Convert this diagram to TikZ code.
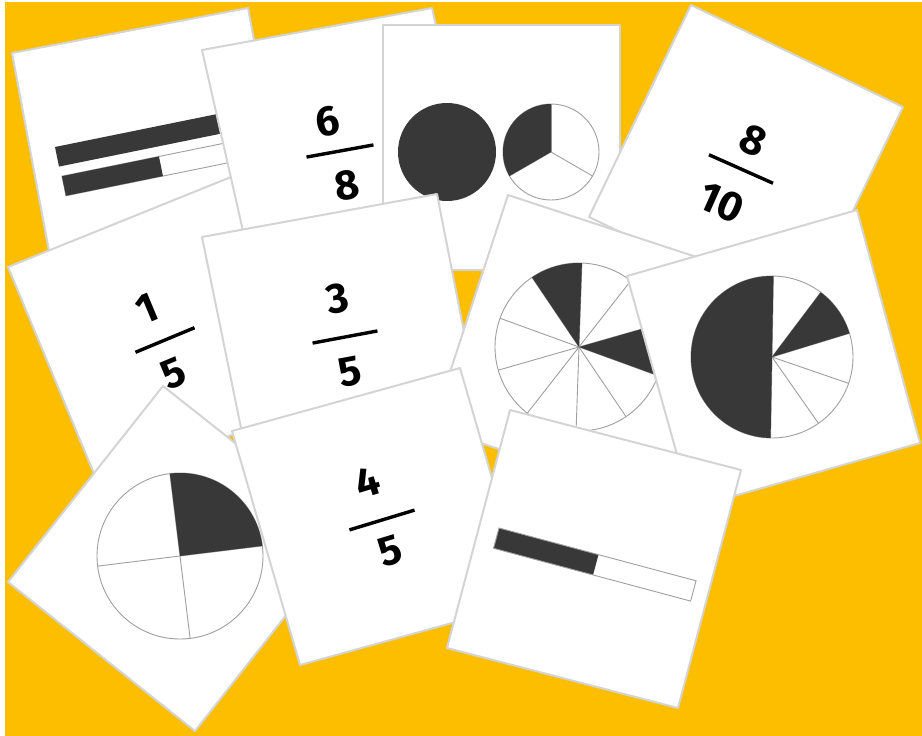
\documentclass[tikz,border=0pt]{standalone}
\usepackage{fontspec}
\setmainfont{Fira Sans}
\definecolor{bgyellow}{RGB}{253,190,0}
\definecolor{inkdark}{RGB}{56,56,56}
\definecolor{cardedge}{RGB}{212,212,212}
\tikzset{
  card/.style={fill=white, draw=cardedge, line width=2pt, line join=round},
  shade/.style={fill=inkdark},
  pieline/.style={draw=gray!75, line width=0.9pt},
  digit/.style={font=\fontsize{42}{42}\selectfont\bfseries, inner sep=0pt},
  fracbar/.style={line width=3.4pt}
}
\begin{document}
\begin{tikzpicture}[x=1pt,y=-1pt]
    \useasboundingbox (0,0) rectangle (922,736);
    \fill[white] (0,0) rectangle (922,736);
    \fill[bgyellow] (5,2) rectangle (922,736);

    % two bars card
    \draw[card] (12,53) -- (248,8) -- (293,249) -- (57,294) -- cycle;
    \begin{scope}[shift={(55,147)}, rotate=11.5]
        \fill[shade] (0,0) rectangle (200,20);
        \draw[pieline] (1,30) rectangle (201,50);
        \fill[shade] (1,30) rectangle (100,50);
    \end{scope}

    % 1/5 card
    \draw[card] (8,267) -- (236,175) -- (328,396) -- (100,488) -- cycle;
    \begin{scope}[shift={(165,340)}, rotate=22.6, transform shape]
        \node[digit] (one) at (-4,-36) {1};
        \node[digit] (fiveA) at (-5,34) {5};
        \draw[fracbar] (-32,0) -- (32,0);
    \end{scope}

    % 6/8 card
    \draw[card] (202,50) -- (432,8) -- (485,242) -- (255,284) -- cycle;
    \begin{scope}[shift={(340,151)}, rotate=10.3, transform shape]
        \node[digit] (six) at (-7,-31) {6};
        \node[digit] (eight) at (1,35) {8};
        \draw[fracbar] (-34,0) -- (34,0);
    \end{scope}

    % whole and two-thirds circles card
    \draw[card] (383,25) -- (620,25) -- (620,270) -- (383,270) -- cycle;
    \fill[shade] (447,152) circle[radius=49pt];
    \coordinate (pie3) at (551,152);
    \draw[pieline] (pie3) circle[radius=48pt];
    \foreach \a in {90,210,330}
        \draw[pieline] (pie3) -- ++(\a:48pt);
    \fill[shade] (pie3) -- ++(90:48pt) arc[start angle=90, end angle=210, radius=48pt] -- cycle;

    % 8/10 card
    \draw[card] (691,5) -- (903,107) -- (801,319) -- (589,217) -- cycle;
    \begin{scope}[shift={(741,169)}, rotate=-24, transform shape]
        \node[digit] (eightB) at (0,-31) {8};
        \node[digit] (ten) at (-4,39) {10};
        \draw[fracbar] (-35,0) -- (35,0);
    \end{scope}

    % 3/5 card
    \draw[card] (202,237) -- (437,194) -- (484,434) -- (250,472) -- cycle;
    \begin{scope}[shift={(345,337)}, rotate=10.6, transform shape]
        \node[digit] (three) at (0,-39) {3};
        \node[digit] (fiveB) at (-1,35) {5};
        \draw[fracbar] (-33,0) -- (33,0);
    \end{scope}

    % quarter circle card
    \draw[card] (163,386) -- (350,534) -- (195,731) -- (8,582) -- cycle;
    \coordinate (pie4) at (180,556);
    \draw[pieline] (pie4) circle[radius=83pt];
    \foreach \a in {7,97,187,277}
        \draw[pieline] (pie4) -- ++(\a:83pt);
    \fill[shade] (pie4) -- ++(7:83pt) arc[start angle=7, end angle=97, radius=83pt] -- cycle;

    % tenths circle card
    \draw[card] (508,195) -- (736,270) -- (660,502) -- (432,427) -- cycle;
    \coordinate (pie10) at (579,347);
    \draw[pieline] (pie10) circle[radius=84pt];
    \foreach \a in {16,52,...,340}
        \draw[pieline] (pie10) -- ++(\a:84pt);
    \fill[shade] (pie10) -- ++(88:84pt) arc[start angle=88, end angle=124, radius=84pt] -- cycle;
    \fill[shade] (pie10) -- ++(-20:84pt) arc[start angle=-20, end angle=16, radius=84pt] -- cycle;

    % six tenths circle card
    \draw[card] (627,276) -- (857,210) -- (920,443) -- (692,508) -- cycle;
    \coordinate (pie6) at (772,357);
    \draw[pieline] (pie6) circle[radius=81pt];
    \foreach \a in {17,53,...,341}
        \draw[pieline] (pie6) -- ++(\a:81pt);
    \fill[shade] (pie6) -- ++(89:81pt) arc[start angle=89, end angle=269, radius=81pt] -- cycle;
    \fill[shade] (pie6) -- ++(17:81pt) arc[start angle=17, end angle=53, radius=81pt] -- cycle;

    % 4/5 card
    \draw[card] (232,431) -- (460,368) -- (528,602) -- (300,665) -- cycle;
    \begin{scope}[shift={(382,520)}, rotate=16.9, transform shape]
        \node[digit] (four) at (-3,-40) {4};
        \node[digit] (fiveC) at (-1,32) {5};
        \draw[fracbar] (-34,0) -- (34,0);
    \end{scope}

    % half bar card
    \draw[card] (510,410) -- (741,470) -- (678,708) -- (447,648) -- cycle;
    \begin{scope}[shift={(499,528)}, rotate=-15]
        \fill[shade] (0,0) rectangle (103,21);
        \draw[pieline] (0,0) rectangle (204,21);
    \end{scope}
\end{tikzpicture}
\end{document}
